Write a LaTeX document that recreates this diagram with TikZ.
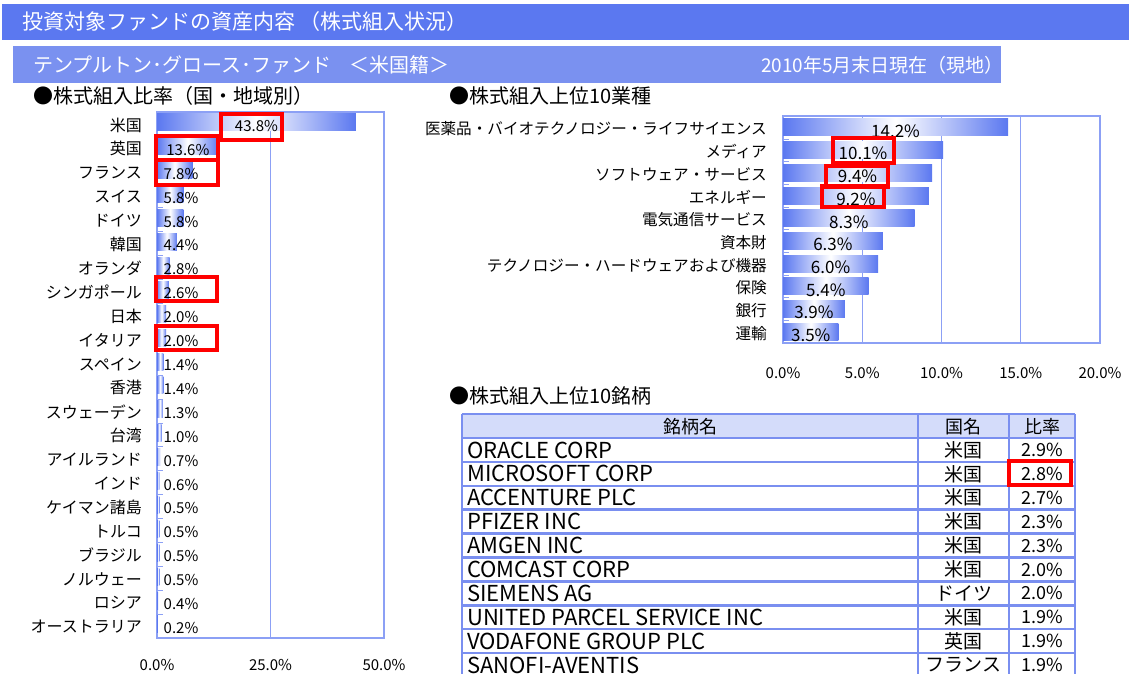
\documentclass[tikz,border=0pt]{standalone}
\usepackage{fontspec}
\setmainfont{Noto Sans CJK JP}
\usetikzlibrary{positioning}
\definecolor{azulfuerte}{RGB}{91,120,240}
\definecolor{azulclaro}{RGB}{122,145,240}
\definecolor{azulmarco}{RGB}{140,160,245}
\definecolor{azultabla}{RGB}{122,143,240}
\definecolor{azulcabecera}{RGB}{212,220,250}
\tikzstyle{franja} = [inner sep=0pt, text=white, anchor=west]
\tikzstyle{seccion} = [inner sep=0pt, anchor=west, font=\fontsize{20}{20}\selectfont]
\tikzstyle{barra} = [left color=azulfuerte, right color=azulfuerte, middle color=white]
\tikzstyle{rejilla} = [draw=azulmarco, line width=1.5pt]
\tikzstyle{etiqueta} = [inner sep=0pt, anchor=east, font=\fontsize{16}{16}\selectfont]
\tikzstyle{valor} = [inner sep=0pt, font=\fontsize{15}{15}\selectfont]
\tikzstyle{eje} = [inner sep=0pt, font=\fontsize{15}{15}\selectfont]
\tikzstyle{celda} = [inner sep=0pt, font=\fontsize{19}{19}\selectfont]
\tikzstyle{marcorojo} = [draw=red, line width=4pt]

\begin{document}
\begin{tikzpicture}[x=1pt, y=-1pt]
	\useasboundingbox (0,0) rectangle (1129,674);
	\fill[azulfuerte] (2,4) rectangle (1129,40);
	\node[franja, font=\fontsize{21}{21}\selectfont] (titulo) at (22,22) {投資対象ファンドの資産内容 （株式組入状況）};
	\fill[azulclaro] (13,46) rectangle (1001,83);
	\node[franja, font=\fontsize{20}{20}\selectfont] (fondo) at (33,65) {テンプルトン･グロース･ファンド\hspace{0.9em}＜米国籍＞};
	\node[franja, anchor=east, font=\fontsize{19}{19}\selectfont] (fecha) at (1004,65) {2010年5月末日現在（現地）};
	\node[seccion] (paises) at (33,96) {●株式組入比率（国・地域別）};
	\node[seccion] (sectores) at (449,96) {●株式組入上位10業種};
	\node[seccion] (acciones) at (449,396) {●株式組入上位10銘柄};

	\draw[rejilla] (157,112) rectangle (384,638);
	\draw[azulmarco, line width=1pt] (270.5,112) -- (270.5,638);
	\foreach \pais/\val [count=\i] in {米国/43.8, 英国/13.6, フランス/7.8, スイス/5.8, ドイツ/5.8, 韓国/4.4, オランダ/2.8, シンガポール/2.6, 日本/2.0, イタリア/2.0, スペイン/1.4, 香港/1.4, スウェーデン/1.3, 台湾/1.0, アイルランド/0.7, インド/0.6, ケイマン諸島/0.5, トルコ/0.5, ブラジル/0.5, ノルウェー/0.5, ロシア/0.4, オーストラリア/0.2} {
		\pgfmathsetmacro\yb{112+23.9*(\i-1)}
		\pgfmathsetmacro\xb{157+\val*4.54}
		\pgfmathsetmacro\xv{max(157+\val*2.27,181)}
		\shade[barra] (157,\yb+2) rectangle (\xb,\yb+19);
		\draw[azulmarco] (157,\yb) -- +(6,0);
		\node[etiqueta] (pais\i) at (142,\yb+13) {\pais};
		\node[valor] (pct\i) at (\xv,\yb+14) {\val\%};
	}
	\foreach \x/\txt [count=\i] in {157/0.0, 270.5/25.0, 384/50.0}
		\node[eje] (ejeizq\i) at (\x,665) {\txt\%};

	\draw[rejilla] (783,116) rectangle (1100,343);
	\foreach \x in {862.25, 941.5, 1020.75}
		\draw[azulmarco, line width=1pt] (\x,116) -- (\x,343);
	\foreach \sector/\val [count=\i] in {医薬品・バイオテクノロジー・ライフサイエンス/14.2, メディア/10.1, ソフトウェア・サービス/9.4, エネルギー/9.2, 電気通信サービス/8.3, 資本財/6.3, テクノロジー・ハードウェアおよび機器/6.0, 保険/5.4, 銀行/3.9, 運輸/3.5} {
		\pgfmathsetmacro\yb{116+22.7*(\i-1)}
		\pgfmathsetmacro\xb{783+\val*15.85}
		\pgfmathsetmacro\xv{783+\val*7.925}
		\shade[barra] (783,\yb+3) rectangle (\xb,\yb+20);
		\draw[azulmarco] (783,\yb) -- +(6,0);
		\node[etiqueta, font=\fontsize{15.6}{16}\selectfont] (sector\i) at (767,\yb+13) {\sector};
		\node[valor, font=\fontsize{17}{17}\selectfont] (peso\i) at (\xv,\yb+15) {\val\%};
	}
	\foreach \x/\txt [count=\i] in {783/0.0, 862.25/5.0, 941.5/10.0, 1020.75/15.0, 1100/20.0}
		\node[eje] (ejeder\i) at (\x,373) {\txt\%};

	\fill[azulcabecera] (462,414) rectangle (1075,438);
	\draw[azultabla, line width=2.5pt] (462,414) -- (1075,414);
	\foreach \k in {0,...,9}
		\draw[azultabla, line width=2.5pt] (462,438+23.9*\k) -- (1075,438+23.9*\k);
	\foreach \x in {462, 918, 1009, 1075}
		\draw[azultabla, line width=2.5pt] (\x,414) -- (\x,676);
	\node[celda, font=\fontsize{18}{18}\selectfont] (colnombre) at (690,427) {銘柄名};
	\node[celda, font=\fontsize{18}{18}\selectfont] (colpais) at (963.5,427) {国名};
	\node[celda, font=\fontsize{18}{18}\selectfont] (colratio) at (1042,427) {比率};
	\foreach \nombre/\pais/\pct [count=\i] in {ORACLE CORP/米国/2.9, MICROSOFT CORP/米国/2.8, ACCENTURE PLC/米国/2.7, PFIZER INC/米国/2.3, AMGEN INC/米国/2.3, COMCAST CORP/米国/2.0, SIEMENS AG/ドイツ/2.0, UNITED PARCEL SERVICE INC/米国/1.9, VODAFONE GROUP PLC/英国/1.9, SANOFI-AVENTIS/フランス/1.9} {
		\pgfmathsetmacro\yc{438+23.9*(\i-0.5)}
		\node[celda, anchor=west, font=\fontsize{22}{22}\selectfont] (nombre\i) at (467,\yc) {\nombre};
		\node[celda] (tpais\i) at (963.5,\yc) {\pais};
		\node[celda, font=\fontsize{18}{18}\selectfont] (tpct\i) at (1042,\yc) {\pct\%};
	}

	\draw[marcorojo] (221,114) rectangle (282,140);
	\draw[marcorojo] (156,136) rectangle (218,160);
	\draw[marcorojo] (156,160) rectangle (218,185);
	\draw[marcorojo] (156,277) rectangle (217,301);
	\draw[marcorojo] (156,326) rectangle (217,350);
	\draw[marcorojo] (833,138) rectangle (894,163);
	\draw[marcorojo] (826,166) rectangle (888,187);
	\draw[marcorojo] (822,186) rectangle (884,207);
	\draw[marcorojo] (1009,461) rectangle (1071,485);
\end{tikzpicture}
\end{document}
